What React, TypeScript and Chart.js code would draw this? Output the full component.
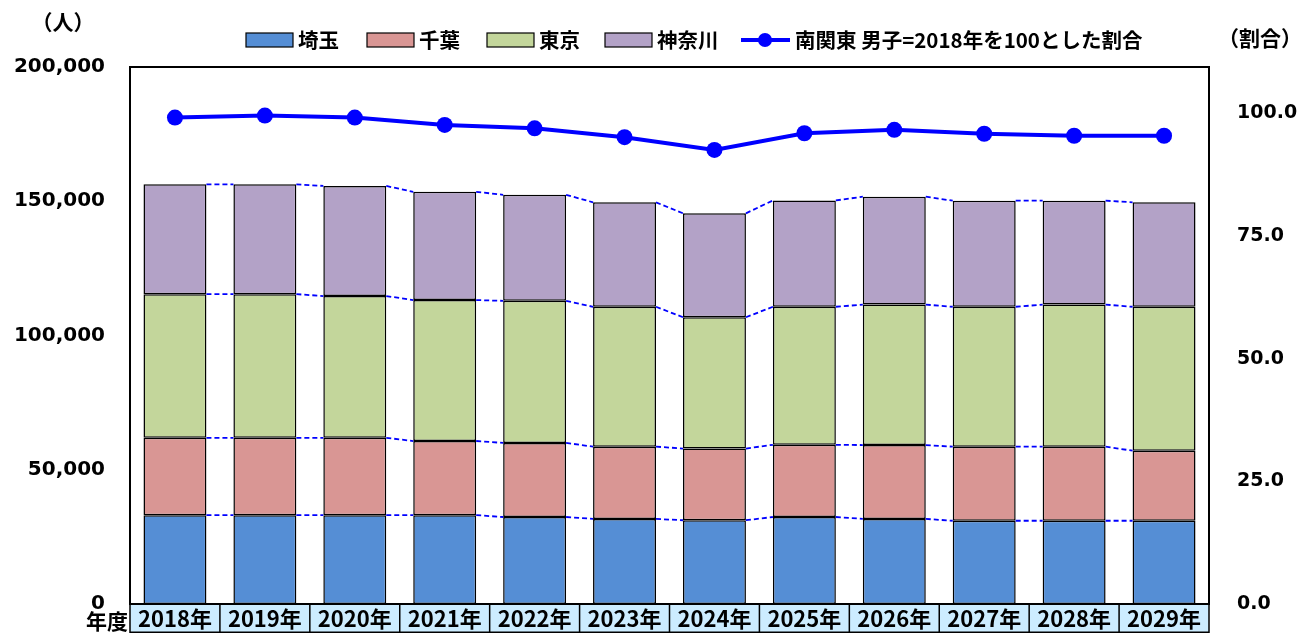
import React, { useEffect, useRef } from "react";
import { Chart, registerables } from "chart.js";

Chart.register(...registerables);

const categories = ["2018年", "2019年", "2020年", "2021年", "2022年", "2023年", "2024年", "2025年", "2026年", "2027年", "2028年", "2029年"];
const saitama = [33100, 33100, 33100, 33100, 32400, 31700, 31200, 32400, 31700, 31000, 31000, 31000];
const chiba = [28800, 28800, 28800, 27600, 27600, 26900, 26700, 26900, 27500, 27600, 27600, 26100];
const tokyo = [53500, 53500, 52800, 52500, 52900, 52100, 48900, 51400, 52300, 52100, 52900, 53600];
const kanagawa = [40900, 40900, 41000, 40300, 39500, 38900, 38700, 39600, 40200, 39500, 38700, 38900];
const ratio = [99.1, 99.5, 99.1, 97.6, 96.9, 95.1, 92.5, 95.9, 96.6, 95.8, 95.4, 95.4];

const seriesNames = ["埼玉", "千葉", "東京", "神奈川"];
const lineName = "南関東 男子=2018年を100とした割合";
const leftTicks = [0, 50000, 100000, 150000, 200000];
const rightTicks = [0, 25, 50, 75, 100];
const leftMax = 200000;
const rightMax = 109.4;
const leftTitle = "（人）";
const rightTitle = "（割合）";
const xTitle = "年度";

const barColors = ["#558ED5", "#D99694", "#C3D69B", "#B3A2C7"];
const lineColor = "#0000FF";
const cellColor = "#CCECFF";

const CJK = '"Noto Sans CJK JP", sans-serif';

const decor = {
  id: "decor",
  beforeDraw(chart: any) {
    const { ctx, chartArea: a } = chart;
    ctx.save();
    ctx.fillStyle = "#fff";
    ctx.fillRect(0, 0, chart.width, chart.height);
    ctx.fillStyle = cellColor;
    ctx.fillRect(a.left, a.bottom, a.right - a.left, chart.height - a.bottom);
    ctx.restore();
  },
  afterDatasetsDraw(chart: any) {
    const { ctx } = chart;
    ctx.save();
    ctx.strokeStyle = lineColor;
    ctx.lineWidth = 1.8;
    ctx.setLineDash([5, 3]);
    for (let d = 0; d < 4; d++) {
      const meta = chart.getDatasetMeta(d);
      const els = meta.data;
      for (let i = 0; i < els.length - 1; i++) {
        const e1 = els[i];
        const e2 = els[i + 1];
        ctx.beginPath();
        ctx.moveTo(e1.x + e1.width / 2, e1.y);
        ctx.lineTo(e2.x - e2.width / 2, e2.y);
        ctx.stroke();
      }
    }
    ctx.restore();
  },
  afterDraw(chart: any) {
    const { ctx, chartArea: a } = chart;
    const xs = chart.scales.x;
    ctx.save();
    // plot border
    ctx.strokeStyle = "#000";
    ctx.lineWidth = 2;
    ctx.strokeRect(a.left, a.top, a.right - a.left, a.bottom - a.top);
    // cell borders
    const n = categories.length;
    const bounds: number[] = [a.left];
    for (let i = 1; i < n; i++) {
      bounds.push((xs.getPixelForValue(i - 1) + xs.getPixelForValue(i)) / 2);
    }
    bounds.push(a.right);
    ctx.lineWidth = 1.5;
    ctx.beginPath();
    for (const bx of bounds) {
      ctx.moveTo(bx, a.bottom);
      ctx.lineTo(bx, chart.height);
    }
    ctx.moveTo(a.left, chart.height - 0.75);
    ctx.lineTo(a.right, chart.height - 0.75);
    ctx.stroke();

    // category labels
    ctx.fillStyle = "#000";
    ctx.textBaseline = "middle";
    ctx.textAlign = "center";
    ctx.font = `bold 22px ${CJK}`;
    for (let i = 0; i < n; i++) {
      ctx.fillText(categories[i], xs.getPixelForValue(i), a.bottom + 15);
    }

    // titles
    ctx.font = `bold 21px ${CJK}`;
    ctx.textAlign = "center";
    ctx.fillText(leftTitle, 63, 22);
    ctx.fillText(rightTitle, 1260, 38);
    ctx.textAlign = "right";
    ctx.fillText(xTitle, 128, 621);

    // legend
    const ly = 40;
    const boxX = [246, 367, 487, 605];
    ctx.font = `bold 20.5px ${CJK}`;
    ctx.textAlign = "left";
    for (let i = 0; i < 4; i++) {
      ctx.fillStyle = barColors[i];
      ctx.fillRect(boxX[i], ly - 7, 47, 14);
      ctx.strokeStyle = "#000";
      ctx.lineWidth = 1.2;
      ctx.strokeRect(boxX[i], ly - 7, 47, 14);
      ctx.fillStyle = "#000";
      ctx.fillText(seriesNames[i], boxX[i] + 52, ly);
    }
    ctx.strokeStyle = lineColor;
    ctx.lineWidth = 4;
    ctx.beginPath();
    ctx.moveTo(741, ly);
    ctx.lineTo(790, ly);
    ctx.stroke();
    ctx.fillStyle = lineColor;
    ctx.beginPath();
    ctx.arc(765, ly, 7, 0, Math.PI * 2);
    ctx.fill();
    ctx.fillStyle = "#000";
    ctx.fillText(lineName, 795, ly);
    ctx.restore();
  },
};

export default function App() {
  const ref = useRef<HTMLCanvasElement | null>(null);
  useEffect(() => {
    if (!ref.current) return;
    const barData = [saitama, chiba, tokyo, kanagawa];
    const chart = new Chart(ref.current, {
      type: "bar",
      data: {
        labels: categories,
        datasets: [
          ...barData.map((vals, i) => ({
            type: "bar" as const,
            label: seriesNames[i],
            data: vals,
            backgroundColor: barColors[i],
            borderColor: "#000",
            borderWidth: 1.5,
            borderSkipped: false,
            barPercentage: 0.7,
            categoryPercentage: 1.0,
            yAxisID: "y",
            stack: "s",
            order: 1,
          })),
          {
            type: "line" as const,
            label: lineName,
            data: ratio,
            borderColor: lineColor,
            backgroundColor: lineColor,
            borderWidth: 4,
            pointRadius: 8,
            pointBorderWidth: 0,
            pointBackgroundColor: lineColor,
            tension: 0,
            yAxisID: "y1",
            order: 0,
          },
        ],
      } as any,
      options: {
        responsive: false,
        animation: false,
        devicePixelRatio: 1,
        layout: { padding: { top: 67, left: 0, right: 0, bottom: 29 } },
        plugins: { legend: { display: false }, tooltip: { enabled: false } },
        scales: {
          x: {
            stacked: true,
            display: false,
          },
          y: {
            stacked: true,
            position: "left",
            min: 0,
            max: leftMax,
            grid: { display: false, drawTicks: true, tickLength: 25 },
            border: { display: false },
            afterBuildTicks: (s: any) => {
              s.ticks = leftTicks.map((v) => ({ value: v }));
            },
            ticks: {
              color: "#000",
              font: { family: '"DejaVu Sans"', weight: "bold", size: 20 },
              padding: 0,
              callback: (v: any) => Number(v).toLocaleString("en-US"),
            },
            afterFit: (s: any) => {
              s.width = 130;
            },
          },
          y1: {
            position: "right",
            min: 0,
            max: rightMax,
            grid: { display: false, drawTicks: true, tickLength: 28 },
            border: { display: false },
            afterBuildTicks: (s: any) => {
              s.ticks = rightTicks.map((v) => ({ value: v }));
            },
            ticks: {
              color: "#000",
              font: { family: '"DejaVu Sans"', weight: "bold", size: 19 },
              padding: 0,
              callback: (v: any) => Number(v).toFixed(1),
            },
            afterFit: (s: any) => {
              s.width = 91;
            },
          },
        },
      } as any,
      plugins: [decor],
    });
    return () => chart.destroy();
  }, []);
  return (
    <div style={{ position: "fixed", left: 0, top: 0, width: 1300, height: 633 }}>
      <canvas ref={ref} width={1300} height={633} style={{ width: 1300, height: 633 }} />
    </div>
  );
}
